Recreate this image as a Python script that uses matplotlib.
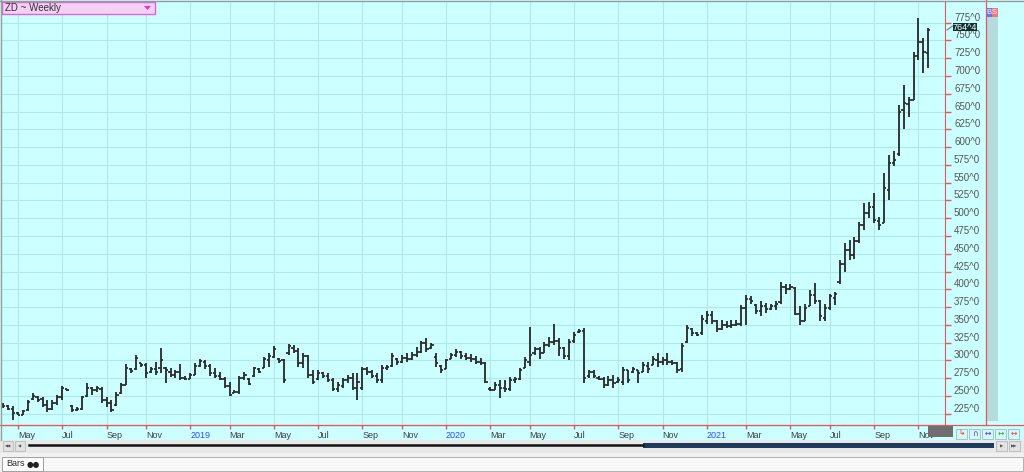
import matplotlib
matplotlib.use("Agg")
import matplotlib.pyplot as plt
import numpy as np
import pandas as pd
from matplotlib.patches import Rectangle, Polygon
from matplotlib.lines import Line2D

# weekly bars, first one is the week ending 2018-04-13
start_date = "2018-04-13"
title = "ZD ~ Weekly"
last_label = "764^4"

highs = [240, 237, 236, 228, 231, 244, 254, 250, 248, 244,
         244, 251, 264, 260, 238, 234, 250, 269, 263, 264,
         263, 248, 244, 256, 268, 295, 289, 308, 297, 296,
         291, 298, 318, 291, 290, 287, 295, 278, 282, 296,
         302, 300, 295, 289, 284, 277, 270, 259, 278, 284,
         275, 291, 289, 305, 310, 320, 303, 302, 323, 322,
         317, 310, 308, 287, 287, 284, 282, 276, 270, 275,
         280, 282, 282, 291, 291, 287, 283, 294, 294, 310,
         303, 308, 310, 312, 319, 328, 331, 324, 310, 294,
         302, 310, 316, 314, 311, 309, 306, 303, 298, 263,
         270, 272, 272, 277, 277, 289, 305, 347, 319, 319,
         326, 333, 351, 331, 319, 330, 340, 344, 345, 287,
         287, 278, 277, 278, 279, 277, 291, 287, 291, 287,
         298, 298, 306, 310, 305, 310, 301, 298, 325, 350,
         345, 340, 364, 369, 369, 357, 357, 355, 357, 357,
         378, 392, 391, 380, 383, 381, 379, 384, 411, 408,
         408, 404, 376, 380, 399, 409, 385, 380, 394, 397,
         441, 465, 469, 474, 495, 521, 523, 535, 502, 563,
         589, 594, 659, 687, 671, 734, 781, 753, 767]

lows = [233, 230, 216, 223, 223, 229, 245, 241, 234, 227,
        230, 237, 245, 257, 228, 229, 231, 248, 252, 256,
        240, 234, 228, 236, 253, 265, 282, 287, 291, 275,
        282, 280, 282, 268, 277, 276, 272, 272, 274, 280,
        291, 288, 278, 275, 272, 261, 250, 254, 253, 272,
        265, 277, 282, 289, 291, 303, 296, 269, 308, 310,
        291, 289, 275, 267, 273, 275, 270, 257, 255, 261,
        268, 258, 245, 258, 280, 275, 268, 269, 287, 291,
        294, 296, 298, 301, 305, 310, 312, 316, 291, 283,
        288, 302, 305, 302, 300, 298, 295, 294, 268, 257,
        258, 247, 256, 257, 269, 272, 289, 292, 308, 302,
        310, 319, 322, 306, 302, 300, 325, 338, 269, 276,
        275, 272, 261, 264, 261, 269, 265, 268, 282, 269,
        284, 282, 294, 291, 294, 294, 294, 283, 284, 325,
        334, 334, 336, 352, 352, 340, 343, 345, 345, 348,
        348, 350, 380, 366, 362, 367, 371, 371, 380, 394,
        399, 364, 350, 355, 376, 380, 355, 356, 371, 378,
        408, 425, 441, 443, 465, 483, 500, 493, 483, 493,
        526, 573, 587, 626, 643, 666, 723, 704, 711]

opens = [238, 236, 232, 226, 224, 230, 246, 248, 246, 238,
         232, 240, 248, 260, 236, 231, 232, 250, 262, 258,
         260, 244, 240, 238, 254, 266, 288, 288, 296, 294,
         284, 288, 290, 290, 284, 280, 284, 276, 274, 280,
         292, 298, 292, 282, 278, 274, 264, 254, 256, 276,
         274, 278, 288, 290, 300, 305, 302, 300, 310, 318,
         314, 296, 306, 280, 274, 282, 278, 273, 260, 264,
         272, 276, 262, 262, 288, 284, 278, 272, 290, 292,
         302, 298, 304, 302, 308, 312, 324, 318, 305, 292,
         288, 302, 308, 312, 306, 304, 302, 298, 296, 260,
         258, 266, 262, 260, 272, 274, 290, 298, 310, 316,
         310, 322, 326, 328, 318, 306, 328, 340, 342, 278,
         284, 276, 274, 266, 272, 270, 270, 286, 284, 286,
         284, 292, 294, 300, 298, 300, 298, 296, 288, 326,
         344, 338, 338, 356, 364, 356, 344, 350, 348, 350,
         352, 374, 386, 378, 370, 376, 372, 376, 382, 404,
         400, 402, 366, 356, 376, 392, 384, 360, 374, 388,
         410, 436, 456, 448, 468, 490, 508, 516, 496, 494,
         540, 578, 590, 652, 660, 666, 728, 748, 732]

closes = [236, 232, 226, 224, 229, 242, 250, 245, 238, 232,
          240, 248, 262, 258, 231, 232, 248, 262, 258, 261,
          244, 240, 230, 252, 265, 290, 285, 304, 294, 282,
          288, 284, 300, 286, 280, 284, 276, 274, 279, 292,
          299, 292, 282, 278, 274, 264, 252, 256, 276, 280,
          267, 289, 284, 302, 306, 316, 299, 272, 320, 314,
          296, 306, 280, 270, 282, 278, 273, 260, 265, 272,
          276, 262, 270, 288, 284, 278, 272, 290, 291, 306,
          298, 304, 302, 308, 312, 324, 316, 322, 296, 286,
          300, 308, 312, 306, 304, 302, 298, 296, 270, 258,
          266, 262, 260, 272, 274, 286, 300, 308, 316, 310,
          322, 326, 328, 318, 306, 326, 336, 342, 275, 284,
          278, 274, 266, 272, 268, 272, 286, 272, 288, 282,
          294, 288, 302, 298, 300, 298, 296, 286, 320, 345,
          338, 336, 358, 364, 356, 344, 350, 348, 350, 352,
          374, 386, 384, 370, 376, 372, 376, 380, 404, 400,
          404, 366, 356, 374, 392, 384, 362, 374, 390, 394,
          436, 456, 448, 468, 490, 508, 516, 498, 490, 542,
          578, 582, 650, 662, 666, 728, 748, 734, 764.5]

W, H = 1024, 472
CYAN = "#CCFFFF"
RED = "#E05A5A"


def fx(px):
    return px / W


def fy(py):
    return 1 - py / H


def box(x0, y0, w, h, **kw):
    # rectangle given in picture pixels (top-left corner)
    fig.add_artist(Rectangle((fx(x0), fy(y0 + h)), fx(w), h / H,
                             transform=fig.transFigure, **kw))


n = len(closes)
x = np.arange(n)

# weekly dates (a week closing on a holiday friday is dated the day before)
dates = pd.date_range(start_date, periods=n, freq="W-FRI")
dates = pd.DatetimeIndex([d - pd.Timedelta(days=1) if (d.month == 1 and d.day == 1) else d
                          for d in dates])
tick_pos, tick_lab = [], []
for i in range(1, n):
    if dates[i].month != dates[i - 1].month and dates[i].month % 2 == 1:
        tick_pos.append(i)
        tick_lab.append(str(dates[i].year) if dates[i].month == 1 else dates[i].strftime("%b"))

plt.rcParams["font.family"] = ["Liberation Sans", "DejaVu Sans"]
fig = plt.figure(figsize=(W / 100, H / 100), dpi=100, facecolor=CYAN)

ax = fig.add_axes([fx(1), fy(425), fx(944), 423 / H])
ax.set_facecolor(CYAN)
ax.set_xlim(-0.45, 191.4)
ax.set_ylim(209.3, 804.1)

ax.vlines(x, lows, highs, color="#2E2E2E", lw=1.35)
ax.hlines(opens, x - 0.45, x, color="#2E2E2E", lw=1.3)
ax.hlines(closes, x, x + 0.45, color="#2E2E2E", lw=1.3)

yt = np.arange(225, 800, 25)
ax.set_yticks(yt)
ax.set_yticklabels([f"{v}^0" for v in yt])
ax.yaxis.tick_right()
ax.tick_params(axis="y", direction="out", length=4, width=1, color=RED,
               labelcolor="#555555", labelsize=7, pad=2.5)
for lbl in ax.get_yticklabels():
    lbl.set_va("bottom")

ax.set_xticks(tick_pos)
ax.set_xticklabels(tick_lab)
ax.tick_params(axis="x", direction="out", length=3, width=1, color=RED,
               labelsize=6.5, pad=1.5)
for lbl in ax.get_xticklabels():
    lbl.set_ha("left")
    lbl.set_color("#3050F0" if lbl.get_text().isdigit() else "#404040")

ax.grid(True, color="#B0E8E8", lw=0.8)
ax.set_axisbelow(True)
for s in ["left", "top"]:
    ax.spines[s].set_visible(False)
ax.spines["right"].set_color(RED)
ax.spines["bottom"].set_color(RED)

# frame lines
fig.add_artist(Line2D([0, 1], [fy(425)] * 2, color=RED, lw=0.9, transform=fig.transFigure))
fig.add_artist(Line2D([fx(985.5)] * 2, [fy(425), 1], color=RED, lw=0.9, transform=fig.transFigure))
fig.add_artist(Line2D([0, 1], [fy(0.5)] * 2, color="#9A9A9A", lw=1, transform=fig.transFigure))
fig.add_artist(Line2D([fx(0.5)] * 2, [fy(440), 1], color="#9A9A9A", lw=1, transform=fig.transFigure))

# right strip with B / S
box(986, 17, 11.5, 404, facecolor="#B4DCDC", edgecolor="none")
box(986, 8, 5.5, 9, facecolor="#7070F0", edgecolor="none")
box(991.5, 8, 6, 9, facecolor="#F07878", edgecolor="none")
fig.text(fx(988.8), fy(12.5), "B", color="white", fontsize=5.5, ha="center", va="center")
fig.text(fx(994.5), fy(12.5), "S", color="white", fontsize=5.5, ha="center", va="center")

# last price label
fig.add_artist(Line2D([fx(947), fx(952.5)], [fy(30), fy(26)], color="#607070", lw=0.7,
                      transform=fig.transFigure))
box(952.5, 23.2, 24.5, 8, facecolor="#123232", edgecolor="none")
fig.text(fx(964.7), fy(27.2), last_label, color="white", fontsize=6.5, ha="center", va="center")

# title box
box(2, 2, 153, 12, facecolor="#F5D0F5", edgecolor="#D868D8", lw=1)
fig.text(fx(5), fy(8), title, color="#303030", fontsize=7, ha="left", va="center")
fig.add_artist(Polygon([[fx(144), fy(6)], [fx(151), fy(6)], [fx(147.5), fy(10)]],
                       closed=True, facecolor="#D040D0", edgecolor="none",
                       transform=fig.transFigure))

# bottom right box and small buttons
box(928, 426, 25, 11, facecolor="#6E6E6E", edgecolor="none")
btn_glyphs = ["\u21b3", "\u2229", "\u2194", "\u2194", "\u2194"]
btn_colors = ["#E04040", "#3040E0", "#3040E0", "#30B030", "#E04040"]
for k, (g, c) in enumerate(zip(btn_glyphs, btn_colors)):
    bx = 955.5 + 13.1 * k
    box(bx, 428.5, 11.5, 10, facecolor="#D8F6F6", edgecolor="#9CC8C8", lw=0.7)
    fig.text(fx(bx + 5.75), fy(433.5), g, color=c, fontsize=5.5, ha="center", va="center",
             family="DejaVu Sans")

# scroll row
box(0, 440, W, 13, facecolor="#E8E8E8", edgecolor="none")
for bx, g in [(3, "\u25c0\u25c0"), (15, "\u25c0"), (995.5, "\u25b6"), (1008.5, "\u25b6\u25b6")]:
    wd = 10 if bx < 100 else 11.5
    box(bx, 441, wd, 10, facecolor="#E2E2E2", edgecolor="#B8B8B8", lw=0.6)
    fig.text(fx(bx + wd / 2), fy(446), g, color="#505050", fontsize=3, ha="center",
             va="center", family="DejaVu Sans")
fig.add_artist(Line2D([fx(29), fx(643)], [fy(445)] * 2, color="#111111", lw=1.8,
                      transform=fig.transFigure))
box(643, 442.7, 351, 5, facecolor="#1E3A5E", edgecolor="none")

# bottom tab row
box(0, 453, W, 19, facecolor="#F0F0F0", edgecolor="none")
box(43, 457, 980, 14, facecolor="#F8F8F8", edgecolor="#B0B0B0", lw=0.7)
box(2, 457, 41, 14, facecolor="#FCFCFC", edgecolor="#A0A0A0", lw=0.7)
fig.text(fx(6), fy(464), "Bars", color="#303030", fontsize=6.5, ha="left", va="center")
fig.text(fx(27), fy(464), "\u25cf\u25cf", color="#202020", fontsize=5.5, ha="left",
         va="center", family="DejaVu Sans")

fig.savefig("out.png", dpi=100, facecolor=CYAN)
